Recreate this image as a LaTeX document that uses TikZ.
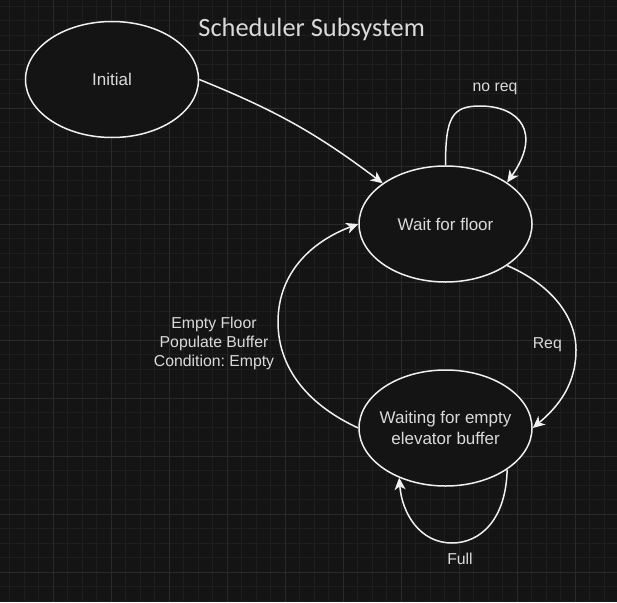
\documentclass[tikz,border=0pt]{standalone}
\usepackage{fontspec}
\setmainfont{Liberation Sans}
\newfontfamily\titlefont{Carlito}
\usetikzlibrary{arrows.meta,shapes.geometric}
\frenchspacing
\definecolor{bg}{HTML}{141414}
\definecolor{gridminor}{HTML}{1E1E1E}
\definecolor{gridmajor}{HTML}{2A2A2A}
\definecolor{fg}{HTML}{F0F0F0}
\definecolor{txt}{HTML}{DADADA}
\begin{document}
\begin{tikzpicture}[x=1pt,y=-1pt,
  state/.style={draw=fg, line width=1.5pt, ellipse, fill=bg,
    minimum width=173pt, minimum height=116pt, inner xsep=-10pt, inner ysep=0pt,
    text=txt, font=\fontsize{17}{21}\selectfont, align=center},
  link/.style={draw=fg, line width=1.5pt,
    -{Stealth[length=12pt,width=11pt,inset=3.5pt]}},
  lbl/.style={text=txt, font=\fontsize{15.8}{18.7}\selectfont, align=center, inner sep=0pt},
  gminor/.style={draw=gridminor, line width=1pt},
  gmajor/.style={draw=gridmajor, line width=1pt}]
\useasboundingbox (0,0) rectangle (617,602);
\fill[bg] (0,0) rectangle (617,602);
% grid
\foreach \i in {0,...,43} {
  \draw[gminor] ({-4.7+14.5*\i},0) -- ++(0,602);
  \draw[gminor] (0,{-8+14.5*\i}) -- ++(617,0);
}
\foreach \i in {0,...,11} {
  \draw[gmajor] ({-4.7+58*\i},0) -- ++(0,602);
  \draw[gmajor] (0,{-8+58*\i}) -- ++(617,0);
}
% title
\node[anchor=base, text=txt, inner sep=0pt, font=\titlefont\fontsize{26.4}{30}\selectfont] (title) at (311.7,36.7) {Scheduler Subsystem};
% states
\node[state] (init) at (112,79.5) {Initial};
\node[state] (wait) at (445.5,224) {Wait for floor};
\node[state] (buf) at (445.5,428) {Waiting for empty\\elevator buffer};
% helper points
\coordinate (noreqtop) at (480,106);
\coordinate (reqright) at (576,350);
\coordinate (emptyleft) at (278,322);
\coordinate (fullbottom) at (452,543);
% edges
\draw[link] (init.east) to[out=-22,in=143] (wait.147);
\draw[link] (wait.north) .. controls +(0,-48) and +(-28,0) .. (noreqtop)
  .. controls +(40,0) and (542,133) .. (wait.34);
\draw[link] (wait.-34) .. controls +(42,18) and +(0,-35) .. (reqright)
  .. controls +(0,35) and +(25,-21) .. (buf.east);
\draw[link] (buf.west) .. controls +(-48,-22) and +(0,48) .. (emptyleft)
  .. controls +(0,-52) and +(-43,16) .. (wait.west);
\draw[link] (buf.-34) .. controls (506,520) and +(28,0) .. (fullbottom)
  .. controls +(-32,0) and +(3,36) .. (buf.-133);
% labels
\node[lbl, anchor=base] (lnoreq) at (495,91.7) {no req};
\node[lbl, anchor=base] (lreq) at (547.3,348.3) {Req};
\node[lbl, anchor=base] (lfull) at (460,564) {Full};
\node[lbl] (lempty) at (214,343.5) {Empty Floor\\Populate Buffer\\Condition: Empty};
\end{tikzpicture}
\end{document}
